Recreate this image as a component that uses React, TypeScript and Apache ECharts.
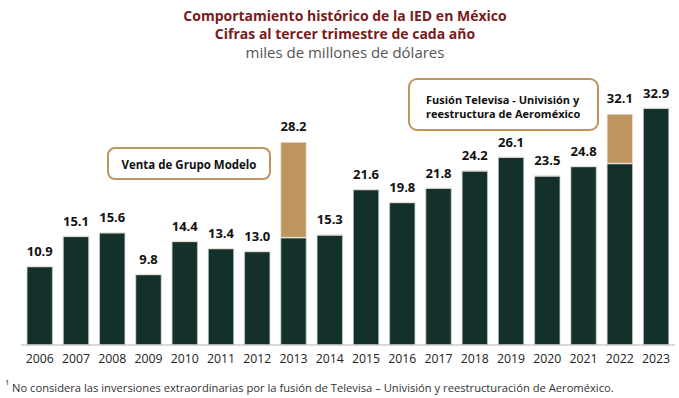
import React, { useEffect, useRef } from "react";
import * as echarts from "echarts";

const years = ["2006","2007","2008","2009","2010","2011","2012","2013","2014","2015","2016","2017","2018","2019","2020","2021","2022","2023"];
const baseValues = [10.9,15.1,15.6,9.8,14.4,13.4,13.0,14.9,15.3,21.6,19.8,21.8,24.2,26.1,23.5,24.8,25.2,32.9];
const extraValues = [0,0,0,0,0,0,0,13.3,0,0,0,0,0,0,0,0,6.9,0];
const totalLabels = ["10.9","15.1","15.6","9.8","14.4","13.4","13.0","28.2","15.3","21.6","19.8","21.8","24.2","26.1","23.5","24.8","32.1","32.9"];

const FONT = "'Open Sans', 'Noto Sans', sans-serif";
const DARK = "#13302b";
const TAN = "#bd955f";

export default function App() {
  const ref = useRef<HTMLDivElement>(null);
  useEffect(() => {
    if (!ref.current) return;
    const chart = echarts.init(ref.current, null, { renderer: "svg" });
    chart.setOption({
      animation: false,
      backgroundColor: "#ffffff",
      grid: { left: 21.6, right: 4.8, top: 93, bottom: 53 },
      xAxis: {
        type: "category",
        data: years,
        axisLine: { show: true, lineStyle: { color: "#d9d9d9", width: 2 } },
        axisTick: { show: false },
        axisLabel: { color: "#222", fontSize: 12.3, fontFamily: FONT, margin: 7, interval: 0 },
      },
      yAxis: {
        type: "value",
        min: 0,
        max: 35,
        show: false,
        splitLine: { show: false },
      },
      series: [
        {
          type: "bar",
          stack: "a",
          data: baseValues,
          barCategoryGap: "28%",
          itemStyle: { color: DARK, borderColor: "rgba(190,200,198,0.9)", borderWidth: 0.8 },
        },
        {
          type: "bar",
          stack: "a",
          data: extraValues,
          itemStyle: { color: TAN, borderColor: "rgba(235,225,210,0.9)", borderWidth: 0.8 },
        },
        {
          type: "bar",
          stack: "a",
          data: years.map(() => 0),
          itemStyle: { color: "transparent" },
          label: {
            show: true,
            position: "top",
            distance: 9,
            formatter: (p: any) => totalLabels[p.dataIndex],
            color: "#111",
            fontWeight: "bold",
            fontSize: 13,
            fontFamily: FONT,
          },
        },
      ],
      graphic: [
        {
          type: "text",
          x: 345,
          y: 15.5,
          style: {
            text: "Comportamiento histórico de la IED en México",
            fill: "#7a1a1a",
            font: `bold 14px ${FONT}`,
            textAlign: "center",
            textVerticalAlign: "middle",
          },
        },
        {
          type: "text",
          x: 345,
          y: 33.5,
          style: {
            text: "Cifras al tercer trimestre de cada año",
            fill: "#7a1a1a",
            font: `bold 14px ${FONT}`,
            textAlign: "center",
            textVerticalAlign: "middle",
          },
        },
        {
          type: "text",
          x: 345,
          y: 51.5,
          style: {
            text: "miles de millones de dólares",
            fill: "#555555",
            font: `15px ${FONT}`,
            textAlign: "center",
            textVerticalAlign: "middle",
          },
        },
        {
          type: "rect",
          shape: { x: 108, y: 148, width: 162, height: 31, r: 7 },
          style: { fill: "#ffffff", stroke: TAN, lineWidth: 2 },
        },
        {
          type: "text",
          x: 189,
          y: 164,
          style: {
            text: "Venta de Grupo Modelo",
            fill: "#111",
            font: `bold 11.5px ${FONT}`,
            textAlign: "center",
            textVerticalAlign: "middle",
          },
        },
        {
          type: "rect",
          shape: { x: 409, y: 79, width: 189, height: 51, r: 8 },
          style: { fill: "#ffffff", stroke: TAN, lineWidth: 2 },
        },
        {
          type: "text",
          x: 426,
          y: 99.5,
          style: {
            text: "Fusión Televisa - Univisión y",
            fill: "#111",
            font: `bold 11px ${FONT}`,
            textAlign: "left",
            textVerticalAlign: "middle",
          },
        },
        {
          type: "text",
          x: 426,
          y: 113,
          style: {
            text: "reestructura de Aeroméxico",
            fill: "#111",
            font: `bold 11px ${FONT}`,
            textAlign: "left",
            textVerticalAlign: "middle",
          },
        },
        {
          type: "text",
          x: 5,
          y: 381,
          style: {
            text: "1",
            fill: "#333",
            font: `8px ${FONT}`,
            textAlign: "left",
            textVerticalAlign: "middle",
          },
        },
        {
          type: "text",
          x: 12,
          y: 387,
          style: {
            text: "No considera las inversiones extraordinarias por la fusión de Televisa – Univisión y reestructuración de Aeroméxico.",
            fill: "#333",
            font: `11.2px ${FONT}`,
            textAlign: "left",
            textVerticalAlign: "middle",
          },
        },
      ],
    });
    return () => chart.dispose();
  }, []);
  return <div ref={ref} style={{ width: 679, height: 398, position: "absolute", left: 0, top: 0 }} />;
}
